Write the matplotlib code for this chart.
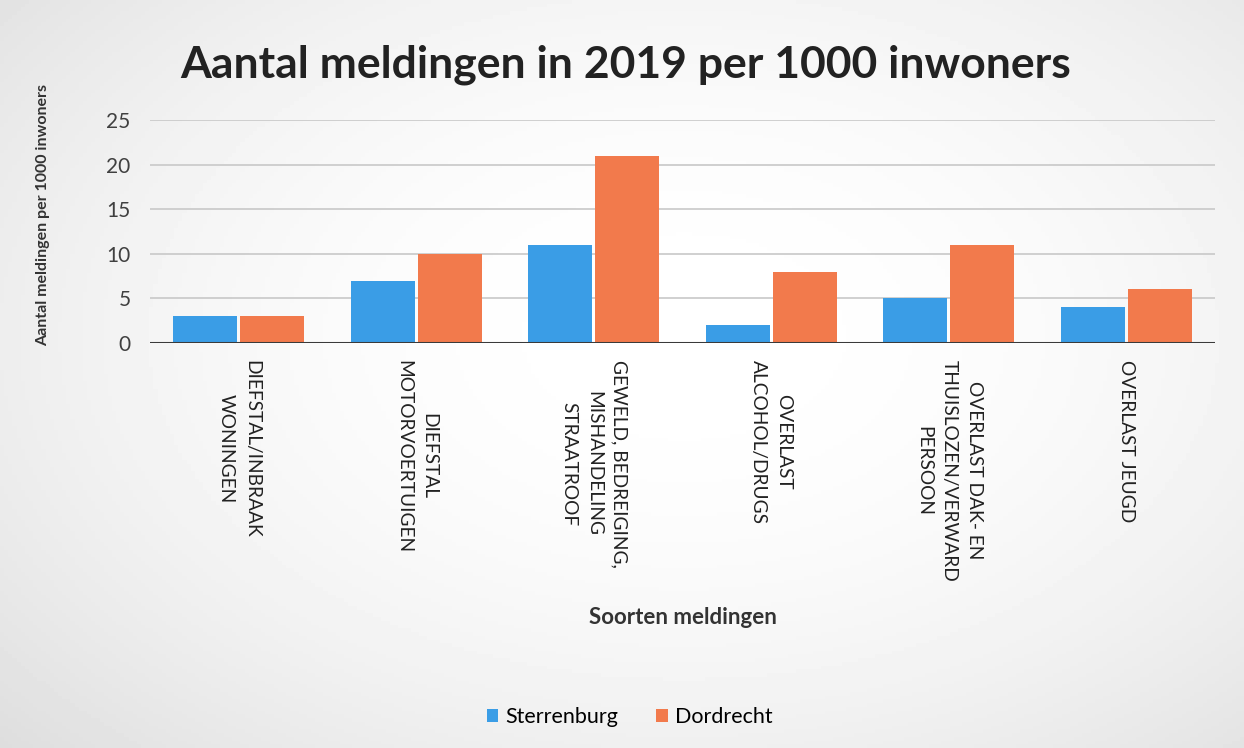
import matplotlib
matplotlib.use("Agg")
import matplotlib.pyplot as plt
import numpy as np

# data
categories = [
    "DIEFSTAL/INBRAAK\nWONINGEN",
    "DIEFSTAL\nMOTORVOERTUIGEN",
    "GEWELD, BEDREIGING,\nMISHANDELING\nSTRAATROOF",
    "OVERLAST\nALCOHOL/DRUGS",
    "OVERLAST DAK- EN\nTHUISLOZEN/VERWARD\nPERSOON",
    "OVERLAST JEUGD",
]
sterrenburg = [3, 7, 11, 2, 5, 4]
dordrecht = [3, 10, 21, 8, 11, 6]
yticks = [0, 5, 10, 15, 20, 25]

plt.rcParams['font.family'] = ['Lato', 'DejaVu Sans']

fig = plt.figure(figsize=(12.44, 7.48), dpi=100)
fig.patch.set_facecolor('white')

# lichte scan-achtergrond (grijs aan de randen)
bg = fig.add_axes([0, 0, 1, 1], zorder=-10)
yy, xx = np.mgrid[0:1:200j, 0:1:300j]
r = np.sqrt(((xx - 0.55) / 0.75) ** 2 + ((yy - 0.45) / 0.8) ** 2)
bg.imshow(1 - 0.13 * np.clip(r, 0, 1) ** 2, cmap='gray', vmin=0, vmax=1,
          aspect='auto', extent=[0, 1, 0, 1])
bg.axis('off')

ax = fig.add_axes([0.1206, 0.5414, 0.8561, 0.2982])
ax.set_facecolor('none')

x = np.arange(len(categories))
w = 0.36
ax.bar(x - w / 2 - 0.008, sterrenburg, w, color='#3a9de6', label='Sterrenburg', zorder=3)
ax.bar(x + w / 2 + 0.008, dordrecht, w, color='#f27a4c', label='Dordrecht', zorder=3)

ax.set_xlim(-0.5, len(categories) - 0.5)
ax.set_ylim(0, 25)
ax.set_yticks(yticks)
ax.yaxis.grid(True, color='#c8c8c8', linewidth=1.2, zorder=0)
ax.axhline(0, color='#3a3a3a', linewidth=2.2, zorder=4)
for s in ax.spines.values():
    s.set_visible(False)
ax.tick_params(axis='both', length=0)
ax.tick_params(axis='y', labelsize=15, labelcolor='#404040', pad=14)

ax.set_xticks(x)
ax.set_xticklabels(categories, rotation=270, fontsize=13.8, color='#222222',
                   va='top', ha='center', multialignment='center', linespacing=1.6)
ax.tick_params(axis='x', pad=12)

fig.text(0.503, 0.913, "Aantal meldingen in 2019 per 1000 inwoners",
         ha='center', va='center', fontsize=32, fontweight='bold', color='#222222')
fig.text(0.035, 0.712, "Aantal meldingen per 1000 inwoners", rotation=90,
         ha='center', va='center', fontsize=11.5, fontweight='bold', color='#333333')
fig.text(0.549, 0.175, "Soorten meldingen", ha='center', va='center',
         fontsize=16, fontweight='bold', color='#333333')

fig.legend(loc='center', bbox_to_anchor=(0.506, 0.041), ncol=2, frameon=False,
           fontsize=15.5, handlelength=0.55, handleheight=0.55, handletextpad=0.3,
           columnspacing=1.8)

fig.savefig("out.png", dpi=100)
